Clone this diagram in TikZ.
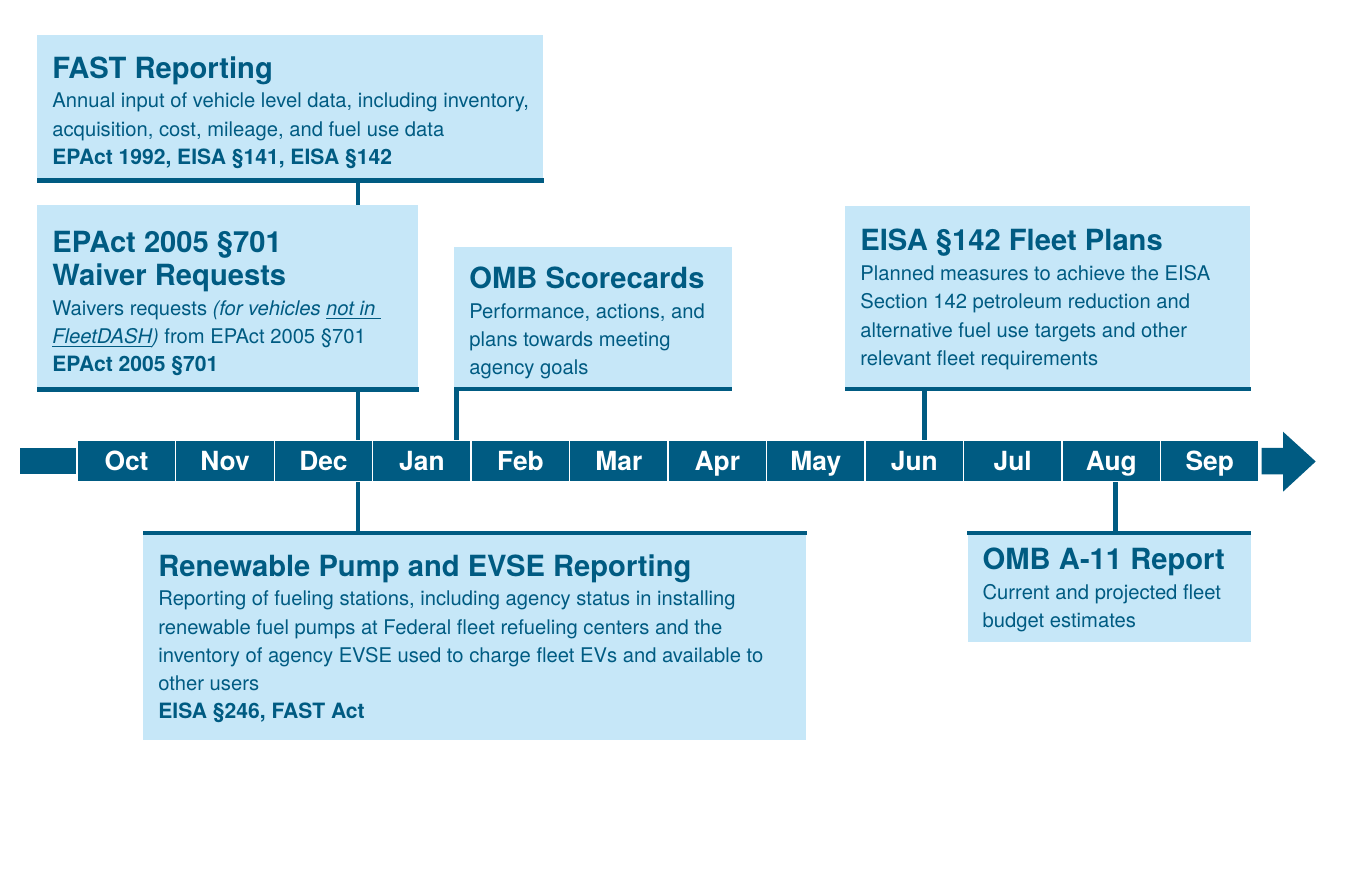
\documentclass[tikz,border=0pt]{standalone}
\usepackage{fontspec}
\setmainfont{TeX Gyre Heros}

\definecolor{navy}{HTML}{005B82}
\definecolor{paleblue}{HTML}{C6E7F8}

% text set inside the boxes
\newcommand{\boxtitle}{\fontsize{16.6}{18.7}\selectfont\bfseries}
\newcommand{\boxbody}{\fontsize{11.5}{16}\selectfont\mdseries}
\newcommand{\boxlaw}{\fontsize{12}{16}\selectfont\bfseries}
\newcommand{\boxtext}[4]{\parbox[c][#1][t]{#2}{\raggedright\leftskip=0.3cm\relax
  \vspace*{#3}#4}}

\tikzset{
  box/.style={fill=paleblue, inner sep=0pt, anchor=north west, text=navy},
  month/.style={fill=navy, draw=white, line width=0.8pt, minimum width=1.969cm,
    minimum height=0.82cm, inner sep=0pt, text=white, text height=11.1pt,
    text depth=0pt, font=\fontsize{15}{15}\selectfont\bfseries},
  stub/.style={fill=navy, minimum width=1.114cm, minimum height=0.52cm, inner sep=0pt},
  link/.style={draw=navy, line width=2.55pt},
  rule/.style={draw=navy, line width=2.55pt},
}

\begin{document}
\begin{tikzpicture}[x=0.02cm, y=-0.02cm]
  \path[fill=white] (0,0) rectangle (1350,884);

  % timeline
  \node[stub] (start) at (47.8,461.3) {};
  \foreach \mon [count=\i] in {Oct,Nov,Dec,Jan,Feb,Mar,Apr,May,Jun,Jul,Aug,Sep}
    \node[month] (\mon) at ({77.3+98.47*(\i-0.5)},461.2) {\mon};
  \fill[navy] (1261.7,448) -- (1283,448) -- (1283,431.7) -- (1315.7,461.5)
    -- (1283,491.7) -- (1283,474.3) -- (1261.7,474.3) -- cycle;

  % boxes above
  \node[box] (fast) at (37,35) {\boxtext{2.94cm}{10.12cm}{0.42cm}{%
    \boxtitle FAST Reporting\\[1pt]
    \boxbody Annual input of vehicle level data, including inventory,\\
    acquisition, cost, mileage, and fuel use data\\
    \boxlaw EPAct 1992, EISA §141, EISA §142}};
  \node[box] (waiver) at (37,205) {\boxtext{3.72cm}{7.62cm}{0.52cm}{%
    \boxtitle EPAct 2005 §701\\
    Waiver Requests\\[1pt]
    \boxbody Waivers requests \textit{(for vehicles \underline{not in }}\\
    \textit{\underline{FleetDASH})} from EPAct 2005 §701\\
    \boxlaw EPAct 2005 §701}};
  \node[box] (scores) at (454,246.7) {\boxtext{2.88cm}{5.554cm}{0.39cm}{%
    \boxtitle OMB Scorecards\\[1pt]
    \boxbody Performance, actions, and\\
    plans towards meeting\\
    agency goals}};
  \node[box] (plans) at (845,206) {\boxtext{3.694cm}{8.1cm}{0.46cm}{%
    \boxtitle EISA §142 Fleet Plans\\[1pt]
    \boxbody Planned measures to achieve the EISA\\
    Section 142 petroleum reduction and\\
    alternative fuel use targets and other\\
    relevant fleet requirements}};

  % boxes below
  \node[box] (pumps) at (143,531) {\boxtext{4.18cm}{13.26cm}{0.46cm}{%
    \boxtitle Renewable Pump and EVSE Reporting\\[1pt]
    \boxbody Reporting of fueling stations, including agency status in installing\\
    renewable fuel pumps at Federal fleet refueling centers and the\\
    inventory of agency EVSE used to charge fleet EVs and available to\\
    other users\\
    \boxlaw EISA §246, FAST Act}};
  \node[box] (budget) at (967.3,531) {\boxtext{2.214cm}{5.668cm}{0.34cm}{%
    \boxtitle OMB A-11 Report\\[1pt]
    \boxbody Current and projected fleet\\
    budget estimates}};

  % heavy edges
  \draw[rule] ([yshift=0.045cm]fast.south west) -- ([yshift=0.045cm]fast.south east);
  \draw[rule] ([yshift=0.045cm]waiver.south west) -- ([yshift=0.045cm]waiver.south east);
  \draw[rule] ([yshift=0.045cm]scores.south west) -- ([yshift=0.045cm]scores.south east);
  \draw[rule] ([yshift=0.045cm]plans.south west) -- ([yshift=0.045cm]plans.south east);
  \draw[rule] ([yshift=-0.045cm]pumps.north west) -- ([yshift=-0.045cm]pumps.north east);
  \draw[rule] ([yshift=-0.045cm]budget.north west) -- ([yshift=-0.045cm]budget.north east);

  % connectors
  \draw[link] (fast.south -| 358,0) -- (waiver.north -| 358,0);
  \draw[link] (waiver.south -| 358,0) -- (Dec.north -| 358,0);
  \draw[link] (scores.south -| 456.7,0) -- (Jan.north -| 456.7,0);
  \draw[link] (plans.south -| 924.5,0) -- (Jun.north -| 924.5,0);
  \draw[link] (Dec.south -| 358,0) -- (pumps.north -| 358,0);
  \draw[link] (Aug.south -| 1115.5,0) -- (budget.north -| 1115.5,0);
\end{tikzpicture}
\end{document}
